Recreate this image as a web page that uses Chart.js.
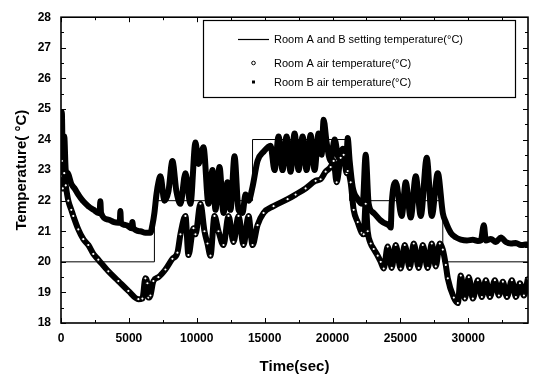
<!DOCTYPE html>
<html><head><meta charset="utf-8">
<script src="https://cdn.jsdelivr.net/npm/chart.js@4.4.0/dist/chart.umd.min.js"></script>
<style>html,body{margin:0;padding:0;background:#fff;}#wrap{width:534px;height:376px;position:relative;}</style>
</head><body><div id="wrap"><canvas id="c" width="534" height="376"></canvas></div>
<script>
// ---- data ----
const legendLabels = ["Room A and B setting temperature(\u00B0C)", "Room A air temperature(\u00B0C)", "Room B air temperature(\u00B0C)"];
const xTitle = "Time(sec)";
const yTitle = "Temperature( \u00B0C)";
const xTickValues = [0, 5000, 10000, 15000, 20000, 25000, 30000];
const yTickValues = [18, 19, 20, 21, 22, 23, 24, 25, 26, 27, 28];

const setTime = [0, 6881, 14109, 21263, 28123, 34393];
const setTemp = [20, 22, 24, 22, 20, 20];

const timeA = [0,60,130,240,350,538,760,907,1276,1645,2013,2382,2751,3488,4226,4963,5701,5996,6217,6365,6439,6586,6807,7176,7692,8208,8577,8798,9167,9388,9757,9905,10273,10569,10790,11011,11306,11601,11970,12339,12708,13076,13445,13814,14109,14478,14920,15657,16690,17280,18017,18755,19123,19492,19861,20082,20304,20599,20820,21041,21115,21336,21558,21853,22148,22295,22443,22590,22812,23033,23328,23549,23771,24065,24360,24655,25024,25320,25688,25983,26352,26647,27016,27311,27606,27901,28123,28344,28491,28934,29229,29450,29745,30040,30335,30704,31000,31295,31590,31959,32254,32549,32844,33213,33508,33803,34098,34393];
const roomA = [22.8,23.3,22.4,22.9,22.5,22.0,21.7,21.5,21.06,20.74,20.55,20.26,20.07,19.69,19.37,19.05,18.78,18.8,19.46,19.3,18.83,18.9,19.37,19.5,19.75,20.1,20.3,20.9,21.5,20.22,21.1,20.9,21.9,21.0,20.6,20.2,21.5,21.0,20.55,21.5,20.65,21.5,20.55,21.5,20.55,21.2,21.6,21.82,22.05,22.2,22.4,22.65,22.7,22.95,23.1,23.3,22.6,23.4,23.5,22.9,22.97,22.6,21.7,21.3,20.95,20.9,21.9,21.0,20.6,20.42,20.2,20.0,19.78,20.5,19.8,20.55,19.78,20.55,19.8,20.6,19.8,20.55,19.8,20.6,19.85,20.6,20.4,19.9,19.46,18.83,18.65,19.55,18.8,19.5,18.8,19.4,18.85,19.4,18.85,19.4,18.9,19.35,18.85,19.4,18.85,19.3,18.9,19.45];

const timeB = [0,60,130,240,350,500,760,1000,1276,1600,2013,2400,2751,2850,2898,2950,3488,3900,4226,4330,4373,4420,4800,5200,5258,5320,5848,6217,6586,6733,6881,7029,7176,7323,7618,7913,8208,8503,8798,9167,9536,9905,10126,10495,10864,11159,11380,11675,11970,12265,12486,12781,13076,13371,13593,13814,14109,14478,14920,15436,15731,16026,16321,16616,16911,17206,17501,17796,18091,18386,18681,18976,19197,19345,19566,19861,20156,20451,20746,21041,21115,21263,21484,21853,22074,22221,22443,22664,23033,23549,23771,24139,24287,24360,24655,25098,25393,25762,26131,26500,26942,27311,27754,28123,28344,28713,29081,29450,29900,30335,30704,30926,31147,31295,31664,32032,32401,32770,33139,33508,33877,34393];
const roomB = [23.8,24.9,23.4,24.1,23.0,22.9,22.55,22.4,22.2,22.0,21.82,21.7,21.6,21.65,21.98,21.6,21.38,21.3,21.28,21.3,21.66,21.28,21.2,21.1,21.3,21.1,21.0,20.95,20.95,21.2,21.6,22.2,22.6,22.8,22.0,22.3,23.3,22.3,21.9,22.9,21.9,23.9,23.2,23.75,21.9,23.0,21.7,23.1,21.6,22.6,21.7,23.45,21.7,21.6,22.2,22.0,22.45,23.3,23.6,23.8,23.0,24.1,23.0,24.1,22.95,24.2,23.0,24.1,23.0,24.15,23.0,24.2,23.5,24.65,23.9,23.3,24.0,23.4,23.7,23.5,24.05,23.3,22.45,22.05,21.92,21.9,23.5,21.9,21.6,21.35,21.28,21.2,21.12,21.9,22.6,21.5,22.6,21.45,22.8,21.5,23.4,21.5,22.9,21.6,21.3,20.95,20.8,20.73,20.7,20.72,20.68,20.7,21.2,20.7,20.75,20.65,20.8,20.65,20.6,20.62,20.55,20.58];

// ---- chart ----
const FONT = '"Liberation Sans", Arial, Helvetica, sans-serif';
const pts = (xs, ys) => xs.map((t, i) => ({x: t, y: ys[i]}));

const frameTicks = {
  id: 'frameTicks',
  afterDatasetsDraw(chart) {
    const {ctx, chartArea: a, scales: {x, y}} = chart;
    ctx.save();
    ctx.strokeStyle = '#000';
    ctx.lineWidth = 1;
    ctx.beginPath();
    for (let v = 0; v <= x.max; v += 2500) {
      const px = Math.round(x.getPixelForValue(v)) + 0.5;
      const len = (v % 5000 === 0) ? 5 : 3;
      ctx.moveTo(px, a.bottom); ctx.lineTo(px, a.bottom - len);
      ctx.moveTo(px, a.top); ctx.lineTo(px, a.top + len);
    }
    for (let v = y.min; v <= y.max + 1e-9; v += 0.5) {
      const py = Math.round(y.getPixelForValue(v)) + 0.5;
      const len = (Math.abs(v - Math.round(v)) < 1e-6) ? 5 : 3;
      ctx.moveTo(a.left, py); ctx.lineTo(a.left + len, py);
      ctx.moveTo(a.right, py); ctx.lineTo(a.right - len, py);
    }
    ctx.stroke();
    ctx.lineWidth = 1.6;
    ctx.strokeRect(a.left, a.top, a.right - a.left, a.bottom - a.top);
    ctx.restore();
  }
};

const boxLegend = {
  id: 'boxLegend',
  afterDraw(chart) {
    const ctx = chart.ctx;
    ctx.save();
    ctx.fillStyle = '#fff';
    ctx.fillRect(203, 20, 312, 77);
    ctx.strokeStyle = '#000';
    ctx.lineWidth = 1.2;
    ctx.strokeRect(203.5, 20.5, 312, 77);
    ctx.font = '11px ' + FONT;
    ctx.fillStyle = '#000';
    ctx.textBaseline = 'middle';
    const rows = [39, 63, 82];
    ctx.lineWidth = 1.2;
    ctx.beginPath(); ctx.moveTo(238, rows[0] + 0.5); ctx.lineTo(269, rows[0] + 0.5); ctx.stroke();
    ctx.lineWidth = 1;
    ctx.beginPath(); ctx.arc(253.5, rows[1], 1.8, 0, Math.PI * 2); ctx.stroke();
    ctx.fillRect(252, rows[2] - 1.5, 3, 3);
    legendLabels.forEach((s, i) => ctx.fillText(s, 274, rows[i] + 0.5));
    ctx.restore();
  }
};

new Chart(document.getElementById('c'), {
  type: 'scatter',
  data: {
    datasets: [
      {label: legendLabels[0], data: pts(setTime, setTemp), showLine: true, stepped: 'before',
       borderColor: '#000', borderWidth: 1, pointRadius: 0, order: 3},
      {label: legendLabels[1], data: pts(timeA, roomA), showLine: true, borderColor: '#000', borderWidth: 6,
       cubicInterpolationMode: 'monotone',
       pointStyle: 'circle', pointRadius: 1.7, pointBorderWidth: 1.2, pointBackgroundColor: '#fff', pointBorderColor: '#000', order: 1},
      {label: legendLabels[2], data: pts(timeB, roomB), showLine: true, borderColor: '#000', borderWidth: 6,
       cubicInterpolationMode: 'monotone',
       pointStyle: 'rect', pointRadius: 2.8, pointBorderWidth: 0, pointBackgroundColor: '#000', order: 2}
    ]
  },
  options: {
    responsive: false,
    animation: false,
    events: [],
    layout: {padding: {left: 0, top: 9, right: 6, bottom: 0}},
    plugins: {legend: {display: false}, tooltip: {enabled: false}},
    scales: {
      x: {
        type: 'linear', min: 0, max: 34400,
        afterBuildTicks: s => { s.ticks = xTickValues.map(v => ({value: v})); },
        afterFit: s => { s.height = 53; },
        grid: {display: false, drawTicks: false},
        border: {display: false},
        ticks: {color: '#000', padding: 8, maxRotation: 0, autoSkip: false, font: {family: FONT, size: 12, weight: 'bold'}, callback: v => String(v)},
        title: {display: true, text: xTitle, color: '#000', padding: {top: 0, bottom: 0}, font: {family: FONT, size: 15, weight: 'bold'}}
      },
      y: {
        min: 18, max: 28,
        afterBuildTicks: s => { s.ticks = yTickValues.map(v => ({value: v})); },
        afterFit: s => { s.width = 61; },
        grid: {display: false, drawTicks: false},
        border: {display: false},
        ticks: {color: '#000', padding: 10, autoSkip: false, font: {family: FONT, size: 12, weight: 'bold'}, callback: v => String(v)},
        title: {display: true, text: yTitle, color: '#000', padding: {top: 13, bottom: 0}, font: {family: FONT, size: 15, weight: 'bold'}}
      }
    }
  },
  plugins: [frameTicks, boxLegend]
});
</script></body></html>
